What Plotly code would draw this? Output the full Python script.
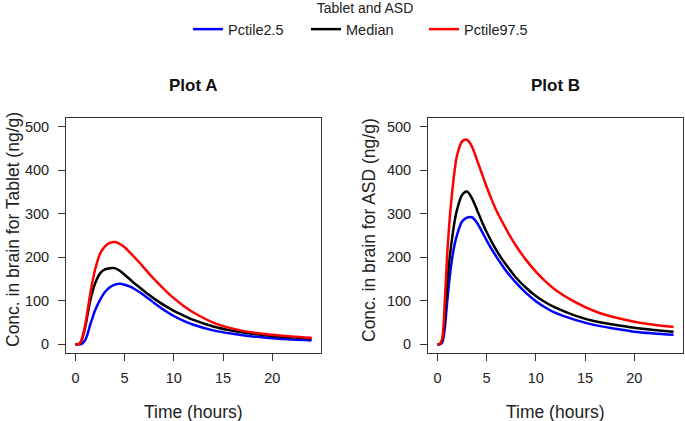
import plotly.graph_objects as go

# Time grid (hours)
time_h = [0, 0.25, 0.5, 0.75, 1, 1.25, 1.5, 1.75, 2, 2.5, 3, 3.5, 4, 4.5, 5, 5.5, 6, 6.5, 7, 7.5, 8,
          9, 10, 11, 12, 14, 16, 18, 20, 22, 24]

# Plot A (Tablet)
tab_p025 = [0, 0, 0, 3, 10, 25, 45, 62, 78, 102, 120, 131, 137, 139, 137, 133, 127, 120, 112, 104, 95,
            79, 65, 54, 45, 32, 24, 18, 14, 11, 9]
tab_med = [0, 0, 3, 18, 40, 70, 100, 122, 140, 163, 172, 175, 175, 169, 160, 150, 140, 131, 122, 113, 105,
           90, 77, 66, 56, 41, 31, 24, 19, 16, 13]
tab_p975 = [0, 0, 4, 20, 45, 80, 115, 146, 172, 208, 225, 233, 235, 231, 223, 212, 200, 188, 175, 162, 150,
            127, 106, 88, 73, 50, 36, 27, 22, 18, 15]

# Plot B (ASD)
asd_p025 = [0, 0, 5, 38, 100, 155, 198, 230, 252, 282, 291, 292, 280, 260, 239, 219, 201, 184, 168, 154, 141,
            118, 99, 84, 72, 56, 44, 36, 29, 25, 22]
asd_med = [0, 1, 10, 62, 140, 200, 245, 283, 310, 343, 351, 336, 310, 283, 258, 236, 216, 198, 182, 167, 153,
           130, 111, 96, 84, 66, 53, 45, 38, 33, 29]
asd_p975 = [0, 1, 15, 100, 210, 290, 350, 400, 435, 466, 470, 455, 425, 393, 362, 333, 307, 285, 264, 244, 226,
            194, 167, 144, 125, 97, 76, 62, 52, 45, 40]

series_names = ["Pctile2.5", "Median", "Pctile97.5"]
series_colors = ["#0000FF", "#000000", "#FF0000"]

y_ticks = [0, 100, 200, 300, 400, 500]
x_ticks = [0, 5, 10, 15, 20]

W, H = 685, 421
FONT = "Liberation Sans, Arial, sans-serif"

fig = go.Figure()
for vals, name, col in zip([tab_p025, tab_med, tab_p975], series_names, series_colors):
    fig.add_trace(go.Scatter(x=time_h, y=vals, mode="lines", name=name,
                             line=dict(color=col, width=2.5, shape="spline", smoothing=0.8),
                             showlegend=True, xaxis="x", yaxis="y"))
for vals, name, col in zip([asd_p025, asd_med, asd_p975], series_names, series_colors):
    fig.add_trace(go.Scatter(x=time_h, y=vals, mode="lines", name=name,
                             line=dict(color=col, width=2.5, shape="spline", smoothing=0.8),
                             showlegend=False, xaxis="x2", yaxis="y2"))

def px_x(p):
    return p / W

def px_y(p):
    return 1 - p / H

ydom = [px_y(353), px_y(118)]
axis_common = dict(showline=True, mirror=True, linecolor="#333", linewidth=1,
                   ticks="outside", ticklen=7, tickcolor="#333", tickwidth=1,
                   showgrid=False, zeroline=False, automargin=False,
                   tickfont=dict(family=FONT, size=14.5, color="#222"))

fig.update_layout(
    width=W, height=H,
    margin=dict(l=0, r=0, t=0, b=0, autoexpand=False),
    paper_bgcolor="white", plot_bgcolor="white",
    font=dict(family=FONT, color="#222"),
    xaxis=dict(domain=[px_x(66), px_x(321)], range=[-0.96, 24.96], tickvals=x_ticks,
               anchor="y", ticklabelstandoff=5, **axis_common),
    yaxis=dict(domain=ydom, range=[-20, 520], tickvals=y_ticks, anchor="x",
               ticklabelstandoff=6, **axis_common),
    xaxis2=dict(domain=[px_x(428), px_x(683)], range=[-0.96, 24.96], tickvals=x_ticks,
                anchor="y2", ticklabelstandoff=5, **axis_common),
    yaxis2=dict(domain=ydom, range=[-20, 520], tickvals=y_ticks, anchor="x2",
                ticklabelstandoff=6, **axis_common),
    legend=dict(orientation="h", x=px_x(188), xanchor="left", y=px_y(-5), yanchor="top",
                title=dict(text="Tablet and ASD", side="top center",
                           font=dict(family=FONT, size=14, color="#222")),
                font=dict(family=FONT, size=14.5, color="#222"),
                entrywidth=73, entrywidthmode="pixels", bgcolor="rgba(0,0,0,0)"),
)

for xc, txt in [(193.5, "<b>Plot A</b>"), (555.5, "<b>Plot B</b>")]:
    fig.add_annotation(xref="paper", yref="paper", x=px_x(xc), y=px_y(85), text=txt,
                       showarrow=False, xanchor="center", yanchor="middle",
                       font=dict(family=FONT, size=17, color="#111"))
for xc, txt in [(193.5, "Time (hours)"), (555.5, "Time (hours)")]:
    fig.add_annotation(xref="paper", yref="paper", x=px_x(xc), y=px_y(412), text=txt,
                       showarrow=False, xanchor="center", yanchor="middle",
                       font=dict(family=FONT, size=17.5, color="#222"))
for xc, txt in [(13, "Conc. in brain for Tablet (ng/g)"), (369, "Conc. in brain for ASD (ng/g)")]:
    fig.add_annotation(xref="paper", yref="paper", x=px_x(xc), y=px_y(230), text=txt,
                       showarrow=False, xanchor="center", yanchor="middle", textangle=-90,
                       font=dict(family=FONT, size=17.5, color="#222"))

fig.write_html("out.html", config={"displayModeBar": False},
               post_script="document.body.style.margin='0px';")
